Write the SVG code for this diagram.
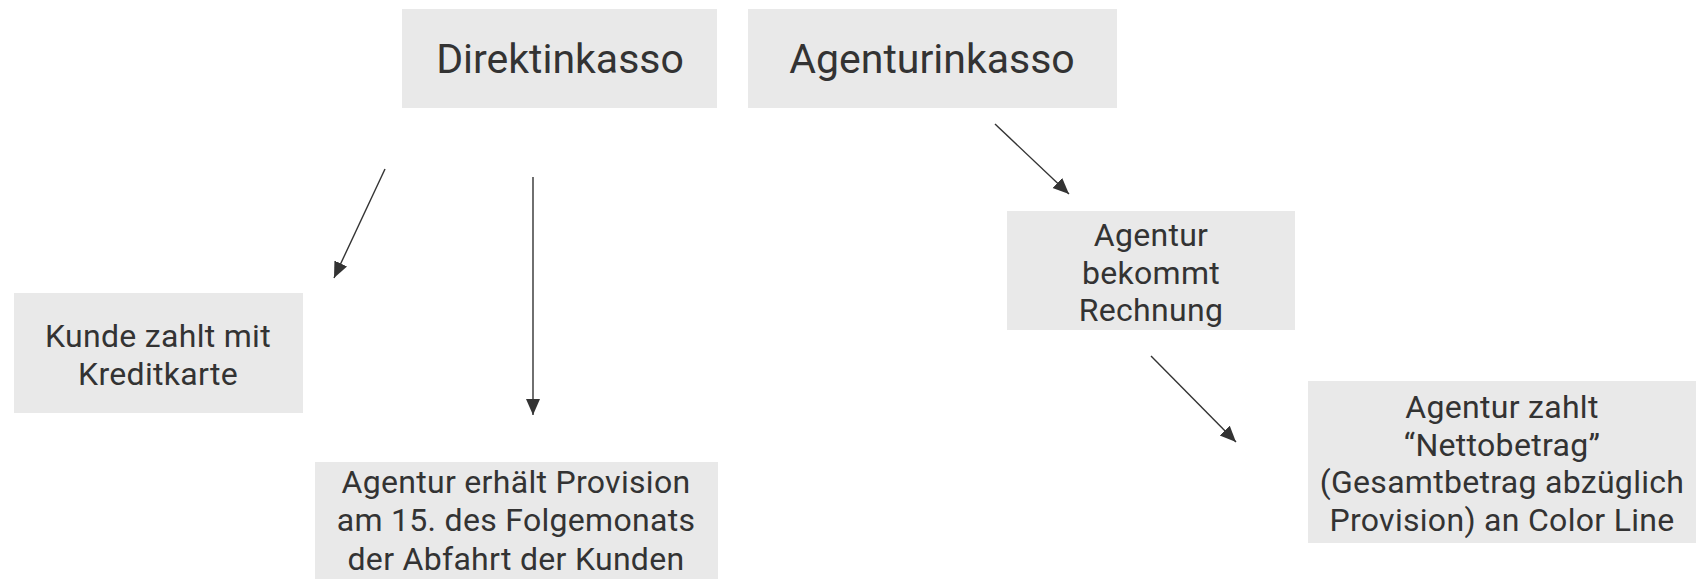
<svg xmlns="http://www.w3.org/2000/svg" width="1696" height="579" viewBox="0 0 1696 579">
<defs>
<style>
.box{fill:#e9e9e9}
.t{font-family:Roboto,"Open Sans","Liberation Sans",sans-serif;font-weight:400;fill:#333;text-anchor:middle}
.big{font-size:41px}
.sm{font-size:32px;letter-spacing:0.3px}
.c{stroke:#333;stroke-width:1.4;fill:none;marker-end:url(#ah)}
</style>
<marker id="ah" markerUnits="userSpaceOnUse" markerWidth="18" markerHeight="16" refX="16" refY="7" orient="auto">
<path d="M0,0 L16,7 L0,14 Z" fill="#333"/>
</marker>
</defs>
<rect width="1696" height="579" fill="#fff"/>
<g id="direkt">
<rect class="box" x="402" y="9" width="315" height="99"/>
<text class="t big" x="560" y="73">Direktinkasso</text>
</g>
<g id="agentur">
<rect class="box" x="748" y="9" width="369" height="99"/>
<text class="t big" x="932" y="73">Agenturinkasso</text>
</g>
<g id="kunde">
<rect class="box" x="14" y="293" width="289" height="120"/>
<text class="t sm" x="158" y="347">Kunde zahlt mit</text>
<text class="t sm" x="158" y="385">Kreditkarte</text>
</g>
<g id="provision">
<rect class="box" x="315" y="462" width="403" height="117"/>
<text class="t sm" x="516" y="493">Agentur erhält Provision</text>
<text class="t sm" x="516" y="531">am 15. des Folgemonats</text>
<text class="t sm" x="516" y="570">der Abfahrt der Kunden</text>
</g>
<g id="rechnung">
<rect class="box" x="1007" y="211" width="288" height="119"/>
<text class="t sm" x="1151" y="246">Agentur</text>
<text class="t sm" x="1151" y="284">bekommt</text>
<text class="t sm" x="1151" y="321">Rechnung</text>
</g>
<g id="netto">
<rect class="box" x="1308" y="381" width="388" height="162"/>
<text class="t sm" x="1502" y="418">Agentur zahlt</text>
<text class="t sm" x="1502" y="456">“Nettobetrag”</text>
<text class="t sm" x="1502" y="493">(Gesamtbetrag abzüglich</text>
<text class="t sm" x="1502" y="531">Provision) an Color Line</text>
</g>
<g id="connectors">
<line class="c" x1="385" y1="169" x2="334" y2="278"/>
<line class="c" x1="533" y1="177" x2="533" y2="415"/>
<line class="c" x1="995" y1="124" x2="1069" y2="194"/>
<line class="c" x1="1151" y1="356" x2="1236" y2="442"/>
</g>
</svg>
